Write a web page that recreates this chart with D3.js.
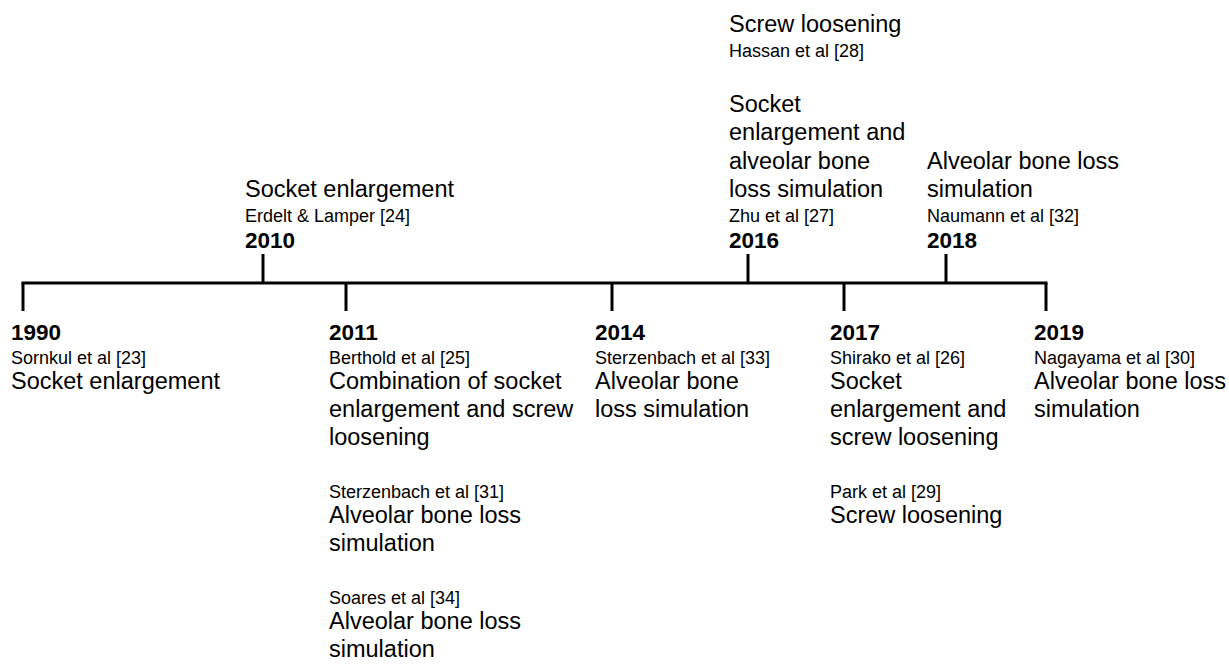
<!DOCTYPE html>
<html>
<head>
<meta charset="utf-8">
<script src="https://cdn.jsdelivr.net/npm/d3@7"></script>
<style>
  body { margin: 0; background: #fff; }
  text { font-family: "Liberation Sans", Arial, sans-serif; fill: #000; }
</style>
</head>
<body>
<div id="timeline"></div>
<script>
// milestones along the timeline, in order, and on which side their labels sit
var years = ["1990", "2010", "2011", "2014", "2016", "2017", "2018", "2019"];
var sides = ["below", "above", "below", "below", "above", "below", "above", "below"];

// one entry per study (first entry of a year sits nearest the line)
var studyYears = ["1990", "2010", "2011", "2011", "2011", "2014", "2016", "2016", "2017", "2017", "2018", "2019"];
var studyAuthors = [
    "Sornkul et al [23]", "Erdelt & Lamper [24]", "Berthold et al [25]", "Sterzenbach et al [31]",
    "Soares et al [34]", "Sterzenbach et al [33]", "Zhu et al [27]", "Hassan et al [28]",
    "Shirako et al [26]", "Park et al [29]", "Naumann et al [32]", "Nagayama et al [30]"
];
var studyFindings = [
    "Socket enlargement",
    "Socket enlargement",
    "Combination of socket\nenlargement and screw\nloosening",
    "Alveolar bone loss\nsimulation",
    "Alveolar bone loss\nsimulation",
    "Alveolar bone\nloss simulation",
    "Socket\nenlargement and\nalveolar bone\nloss simulation",
    "Screw loosening",
    "Socket\nenlargement and\nscrew loosening",
    "Screw loosening",
    "Alveolar bone loss\nsimulation",
    "Alveolar bone loss\nsimulation"
];

var width = 1229, height = 664;
var lineY = 283;

var svg = d3.select("#timeline")
    .append("svg")
    .attr("width", width)
    .attr("height", height);

// the milestones are not spaced by date, so an ordinal scale places them
var x = d3.scaleOrdinal()
    .domain(years)
    .range([23, 263, 346, 612, 748, 844, 946, 1046]);
var labelX = d3.scaleOrdinal()
    .domain(years)
    .range([11, 245, 329, 595, 729, 830, 927, 1034]);

var side = {};
years.forEach(function(y, i) { side[y] = sides[i]; });

// main line
svg.append("line")
    .attr("x1", x(years[0]))
    .attr("x2", x(years[years.length - 1]))
    .attr("y1", lineY)
    .attr("y2", lineY)
    .style("stroke", "#000")
    .style("stroke-width", 3)
    .style("stroke-linecap", "square");

// ticks
svg.selectAll(".tick")
    .data(years)
    .enter()
    .append("line")
    .attr("class", "tick")
    .attr("x1", function(d) { return x(d) })
    .attr("x2", function(d) { return x(d) })
    .attr("y1", lineY)
    .attr("y2", function(d) { return side[d] == "below" ? lineY + 28 : lineY - 29 })
    .style("stroke", "#000")
    .style("stroke-width", 3);

var descSize = 23.5, authSize = 18, yearSize = 22.5;
var descLH = 28;

years.forEach(function(yr) {
    var g = svg.append("g");
    var tx = labelX(yr);
    var idx = [];
    studyYears.forEach(function(s, i) { if (s == yr) idx.push(i); });

    function put(y, txt, size, bold) {
        g.append("text")
            .attr("x", tx)
            .attr("y", y)
            .style("font-size", size + "px")
            .style("font-weight", bold ? "bold" : "normal")
            .text(txt);
    }

    if (side[yr] == "below") {
        var y = lineY + 57;
        put(y, yr, yearSize, true);
        y += 23.5;
        idx.forEach(function(i, k) {
            if (k > 0) y += 52.5;
            put(y, studyAuthors[i], authSize, false);
            y += 25.5;
            studyFindings[i].split("\n").forEach(function(line, j) {
                if (j > 0) y += descLH;
                put(y, line, descSize, false);
            });
        });
    } else {
        var y = lineY - 35;
        put(y, yr, yearSize, true);
        y -= 26.5;
        idx.forEach(function(i, k) {
            if (k > 0) y -= 55;
            put(y, studyAuthors[i], authSize, false);
            y -= 24.5;
            var lines = studyFindings[i].split("\n").reverse();
            lines.forEach(function(line, j) {
                if (j > 0) y -= 28.5;
                put(y, line, descSize, false);
            });
        });
    }
});
</script>
</body>
</html>
